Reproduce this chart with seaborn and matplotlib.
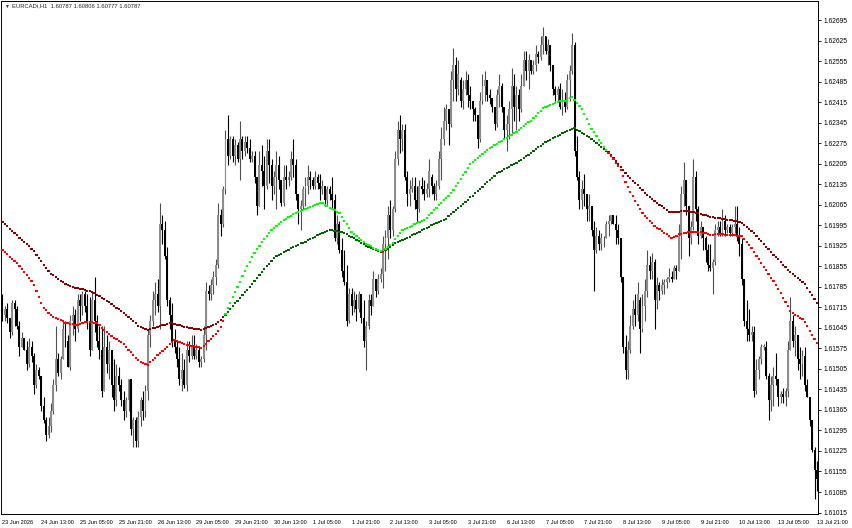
import numpy as np
import pandas as pd
import matplotlib
matplotlib.use("Agg")
import matplotlib.pyplot as plt
import seaborn as sns

# EURCADi H1 candles, 23 Jun 21:00 .. 13 Jul 21:00 (one bar per hour)
opens = [
    1.6174, 1.6169, 1.6171, 1.6168, 1.6163, 1.6173, 1.6171, 1.6165, 1.6158, 1.6161,
    1.6157, 1.6152, 1.6158, 1.6155, 1.6145, 1.6150, 1.6148, 1.6138, 1.6133, 1.6128,
    1.6131, 1.6136, 1.6145, 1.6154, 1.6149, 1.6154, 1.6164, 1.6160, 1.6151, 1.6167,
    1.6169, 1.6164, 1.6174, 1.6172, 1.6176, 1.6172, 1.6167, 1.6157, 1.6174, 1.6167,
    1.6160, 1.6157, 1.6143, 1.6158, 1.6152, 1.6157, 1.6145, 1.6140, 1.6148, 1.6145,
    1.6140, 1.6136, 1.6140, 1.6147, 1.6130, 1.6133, 1.6126, 1.6134, 1.6140, 1.6136,
    1.6143, 1.6162, 1.6167, 1.6174, 1.6176, 1.6172, 1.6200, 1.6198, 1.6189, 1.6174,
    1.6169, 1.6160, 1.6158, 1.6154, 1.6147, 1.6150, 1.6145, 1.6157, 1.6155, 1.6158,
    1.6155, 1.6157, 1.6153, 1.6154, 1.6162, 1.6177, 1.6176, 1.6179, 1.6182, 1.6186,
    1.6203, 1.6200, 1.6212, 1.6229, 1.6223, 1.6229, 1.6223, 1.6227, 1.6222, 1.6229,
    1.6225, 1.6228, 1.6226, 1.6222, 1.6223, 1.6216, 1.6206, 1.6220, 1.6218, 1.6213,
    1.6225, 1.6220, 1.6213, 1.6216, 1.6220, 1.6215, 1.6207, 1.6216, 1.6215, 1.6216,
    1.6222, 1.6220, 1.6210, 1.6205, 1.6206, 1.6212, 1.6213, 1.6216, 1.6215, 1.6213,
    1.6216, 1.6214, 1.6212, 1.6213, 1.6208, 1.6212, 1.6210, 1.6208, 1.6195, 1.6200,
    1.6191, 1.6184, 1.6180, 1.6167, 1.6176, 1.6172, 1.6174, 1.6171, 1.6176, 1.6168,
    1.6160, 1.6165, 1.6174, 1.6172, 1.6181, 1.6177, 1.6181, 1.6183, 1.6193, 1.6195,
    1.6203, 1.6198, 1.6205, 1.6222, 1.6232, 1.6229, 1.6232, 1.6216, 1.6210, 1.6212,
    1.6213, 1.6208, 1.6205, 1.6213, 1.6212, 1.6210, 1.6212, 1.6216, 1.6213, 1.6210,
    1.6213, 1.6222, 1.6229, 1.6235, 1.6239, 1.6234, 1.6249, 1.6254, 1.6246, 1.6249,
    1.6242, 1.6246, 1.6249, 1.6244, 1.6242, 1.6239, 1.6237, 1.6229, 1.6242, 1.6247,
    1.6249, 1.6244, 1.6243, 1.6240, 1.6234, 1.6244, 1.6247, 1.6240, 1.6232, 1.6234,
    1.6239, 1.6247, 1.6240, 1.6244, 1.6239, 1.6247, 1.6256, 1.6252, 1.6256, 1.6252,
    1.6254, 1.6258, 1.6257, 1.6261, 1.6264, 1.6259, 1.6261, 1.6254, 1.6246, 1.6244,
    1.6246, 1.6240, 1.6242, 1.6240, 1.6249, 1.6252, 1.6261, 1.6225, 1.6216, 1.6208,
    1.6212, 1.6210, 1.6205, 1.6206, 1.6198, 1.6191, 1.6196, 1.6193, 1.6195, 1.6195,
    1.6200, 1.6201, 1.6203, 1.6200, 1.6198, 1.6195, 1.6182, 1.6158, 1.6150, 1.6157,
    1.6165, 1.6171, 1.6169, 1.6174, 1.6164, 1.6172, 1.6177, 1.6186, 1.6184, 1.6187,
    1.6174, 1.6179, 1.6177, 1.6179, 1.6180, 1.6181, 1.6182, 1.6181, 1.6185, 1.6184,
    1.6196, 1.6210, 1.6215, 1.6206, 1.6195, 1.6199, 1.6216, 1.6205, 1.6196, 1.6199,
    1.6195, 1.6191, 1.6186, 1.6185, 1.6187, 1.6198, 1.6199, 1.6197, 1.6201, 1.6198,
    1.6199, 1.6197, 1.6199, 1.6200, 1.6196, 1.6193, 1.6181, 1.6167, 1.6164, 1.6162,
    1.6163, 1.6143, 1.6150, 1.6154, 1.6158, 1.6158, 1.6148, 1.6140, 1.6145, 1.6148,
    1.6147, 1.6141, 1.6142, 1.6141, 1.6143, 1.6157, 1.6167, 1.6160, 1.6162, 1.6154,
    1.6152, 1.6155, 1.6145, 1.6141, 1.6133, 1.6123, 1.6116,
]
highs = [
    1.6176, 1.6172, 1.6173, 1.6168, 1.6174, 1.6174, 1.6172, 1.6167, 1.6163, 1.6161,
    1.6160, 1.6161, 1.6160, 1.6156, 1.6152, 1.6151, 1.6148, 1.6141, 1.6134, 1.6134,
    1.6139, 1.6147, 1.6165, 1.6156, 1.6155, 1.6167, 1.6167, 1.6162, 1.6169, 1.6172,
    1.6171, 1.6176, 1.6176, 1.6177, 1.6177, 1.6176, 1.6175, 1.6177, 1.6182, 1.6169,
    1.6165, 1.6165, 1.6165, 1.6162, 1.6160, 1.6157, 1.6154, 1.6152, 1.6151, 1.6147,
    1.6143, 1.6141, 1.6147, 1.6147, 1.6134, 1.6134, 1.6136, 1.6141, 1.6143, 1.6145,
    1.6164, 1.6169, 1.6177, 1.6180, 1.6181, 1.6207, 1.6203, 1.6201, 1.6192, 1.6175,
    1.6173, 1.6164, 1.6160, 1.6158, 1.6156, 1.6154, 1.6160, 1.6160, 1.6162, 1.6162,
    1.6159, 1.6158, 1.6155, 1.6165, 1.6180, 1.6179, 1.6181, 1.6184, 1.6188, 1.6207,
    1.6205, 1.6213, 1.6232, 1.6237, 1.6230, 1.6230, 1.6229, 1.6228, 1.6235, 1.6230,
    1.6230, 1.6230, 1.6229, 1.6225, 1.6225, 1.6216, 1.6225, 1.6227, 1.6223, 1.6229,
    1.6229, 1.6222, 1.6218, 1.6225, 1.6223, 1.6215, 1.6220, 1.6220, 1.6218, 1.6225,
    1.6229, 1.6222, 1.6210, 1.6208, 1.6213, 1.6216, 1.6220, 1.6218, 1.6216, 1.6218,
    1.6217, 1.6217, 1.6215, 1.6213, 1.6213, 1.6213, 1.6216, 1.6210, 1.6203, 1.6201,
    1.6195, 1.6191, 1.6186, 1.6178, 1.6178, 1.6177, 1.6176, 1.6177, 1.6176, 1.6174,
    1.6167, 1.6176, 1.6176, 1.6184, 1.6181, 1.6183, 1.6185, 1.6196, 1.6198, 1.6206,
    1.6208, 1.6206, 1.6225, 1.6235, 1.6237, 1.6234, 1.6234, 1.6218, 1.6215, 1.6216,
    1.6216, 1.6213, 1.6215, 1.6216, 1.6215, 1.6214, 1.6222, 1.6217, 1.6214, 1.6215,
    1.6225, 1.6233, 1.6240, 1.6241, 1.6239, 1.6252, 1.6260, 1.6257, 1.6256, 1.6250,
    1.6249, 1.6252, 1.6251, 1.6247, 1.6242, 1.6240, 1.6237, 1.6245, 1.6251, 1.6252,
    1.6249, 1.6246, 1.6243, 1.6240, 1.6246, 1.6251, 1.6248, 1.6240, 1.6237, 1.6242,
    1.6253, 1.6251, 1.6247, 1.6246, 1.6251, 1.6259, 1.6259, 1.6258, 1.6256, 1.6256,
    1.6261, 1.6259, 1.6264, 1.6267, 1.6264, 1.6263, 1.6261, 1.6254, 1.6247, 1.6247,
    1.6248, 1.6246, 1.6245, 1.6251, 1.6254, 1.6265, 1.6262, 1.6230, 1.6218, 1.6215,
    1.6217, 1.6210, 1.6210, 1.6206, 1.6201, 1.6199, 1.6198, 1.6197, 1.6196, 1.6201,
    1.6203, 1.6203, 1.6203, 1.6203, 1.6200, 1.6195, 1.6182, 1.6162, 1.6160, 1.6169,
    1.6174, 1.6176, 1.6180, 1.6175, 1.6176, 1.6181, 1.6191, 1.6189, 1.6190, 1.6188,
    1.6182, 1.6180, 1.6181, 1.6181, 1.6182, 1.6185, 1.6184, 1.6186, 1.6186, 1.6200,
    1.6213, 1.6221, 1.6215, 1.6206, 1.6201, 1.6222, 1.6218, 1.6206, 1.6201, 1.6199,
    1.6196, 1.6193, 1.6193, 1.6188, 1.6200, 1.6201, 1.6201, 1.6205, 1.6203, 1.6200,
    1.6200, 1.6200, 1.6206, 1.6206, 1.6199, 1.6195, 1.6181, 1.6174, 1.6171, 1.6165,
    1.6165, 1.6154, 1.6155, 1.6159, 1.6159, 1.6160, 1.6149, 1.6148, 1.6151, 1.6156,
    1.6147, 1.6143, 1.6144, 1.6144, 1.6160, 1.6175, 1.6169, 1.6165, 1.6162, 1.6158,
    1.6157, 1.6158, 1.6147, 1.6141, 1.6133, 1.6124, 1.6119,
]
lows = [
    1.6167, 1.6167, 1.6166, 1.6161, 1.6162, 1.6165, 1.6164, 1.6155, 1.6158, 1.6157,
    1.6150, 1.6151, 1.6153, 1.6142, 1.6144, 1.6147, 1.6136, 1.6132, 1.6126, 1.6127,
    1.6129, 1.6135, 1.6143, 1.6148, 1.6147, 1.6154, 1.6158, 1.6151, 1.6150, 1.6162,
    1.6160, 1.6163, 1.6167, 1.6169, 1.6170, 1.6164, 1.6155, 1.6157, 1.6163, 1.6158,
    1.6154, 1.6141, 1.6143, 1.6149, 1.6147, 1.6141, 1.6136, 1.6138, 1.6143, 1.6138,
    1.6133, 1.6134, 1.6136, 1.6128, 1.6124, 1.6124, 1.6124, 1.6131, 1.6133, 1.6134,
    1.6140, 1.6158, 1.6165, 1.6169, 1.6170, 1.6164, 1.6193, 1.6188, 1.6172, 1.6164,
    1.6158, 1.6156, 1.6151, 1.6145, 1.6143, 1.6144, 1.6143, 1.6153, 1.6154, 1.6154,
    1.6154, 1.6151, 1.6151, 1.6153, 1.6157, 1.6174, 1.6174, 1.6176, 1.6179, 1.6185,
    1.6196, 1.6199, 1.6210, 1.6220, 1.6222, 1.6221, 1.6220, 1.6221, 1.6215, 1.6222,
    1.6223, 1.6224, 1.6221, 1.6221, 1.6214, 1.6203, 1.6206, 1.6213, 1.6205, 1.6212,
    1.6214, 1.6208, 1.6210, 1.6205, 1.6212, 1.6206, 1.6206, 1.6212, 1.6213, 1.6215,
    1.6216, 1.6208, 1.6200, 1.6198, 1.6205, 1.6206, 1.6210, 1.6212, 1.6212, 1.6212,
    1.6212, 1.6208, 1.6210, 1.6206, 1.6206, 1.6208, 1.6205, 1.6194, 1.6193, 1.6190,
    1.6182, 1.6179, 1.6165, 1.6166, 1.6169, 1.6170, 1.6167, 1.6170, 1.6166, 1.6158,
    1.6150, 1.6164, 1.6169, 1.6172, 1.6175, 1.6176, 1.6180, 1.6178, 1.6184, 1.6188,
    1.6195, 1.6196, 1.6204, 1.6220, 1.6224, 1.6225, 1.6215, 1.6206, 1.6206, 1.6211,
    1.6205, 1.6201, 1.6204, 1.6210, 1.6208, 1.6209, 1.6209, 1.6210, 1.6208, 1.6208,
    1.6212, 1.6215, 1.6227, 1.6232, 1.6227, 1.6233, 1.6242, 1.6242, 1.6244, 1.6240,
    1.6239, 1.6244, 1.6240, 1.6239, 1.6235, 1.6235, 1.6226, 1.6228, 1.6241, 1.6242,
    1.6242, 1.6241, 1.6238, 1.6232, 1.6233, 1.6240, 1.6238, 1.6229, 1.6225, 1.6229,
    1.6231, 1.6235, 1.6232, 1.6235, 1.6238, 1.6247, 1.6249, 1.6246, 1.6251, 1.6251,
    1.6252, 1.6255, 1.6256, 1.6258, 1.6258, 1.6254, 1.6252, 1.6244, 1.6242, 1.6242,
    1.6239, 1.6237, 1.6238, 1.6239, 1.6242, 1.6251, 1.6223, 1.6215, 1.6205, 1.6205,
    1.6206, 1.6201, 1.6201, 1.6196, 1.6177, 1.6190, 1.6191, 1.6191, 1.6192, 1.6195,
    1.6196, 1.6200, 1.6200, 1.6193, 1.6193, 1.6180, 1.6156, 1.6147, 1.6147, 1.6156,
    1.6164, 1.6165, 1.6167, 1.6156, 1.6163, 1.6167, 1.6175, 1.6181, 1.6181, 1.6164,
    1.6171, 1.6174, 1.6176, 1.6176, 1.6178, 1.6180, 1.6180, 1.6181, 1.6181, 1.6184,
    1.6188, 1.6206, 1.6203, 1.6189, 1.6193, 1.6198, 1.6201, 1.6193, 1.6195, 1.6191,
    1.6187, 1.6184, 1.6184, 1.6176, 1.6186, 1.6196, 1.6196, 1.6196, 1.6196, 1.6197,
    1.6196, 1.6196, 1.6197, 1.6194, 1.6189, 1.6179, 1.6165, 1.6160, 1.6160, 1.6160,
    1.6141, 1.6142, 1.6147, 1.6152, 1.6157, 1.6147, 1.6133, 1.6136, 1.6138, 1.6145,
    1.6138, 1.6139, 1.6139, 1.6138, 1.6141, 1.6157, 1.6158, 1.6155, 1.6150, 1.6147,
    1.6148, 1.6143, 1.6141, 1.6131, 1.6122, 1.6106, 1.6109,
]
closes = [
    1.6169, 1.6171, 1.6168, 1.6163, 1.6173, 1.6171, 1.6165, 1.6158, 1.6161, 1.6157,
    1.6152, 1.6158, 1.6155, 1.6145, 1.6150, 1.6148, 1.6138, 1.6133, 1.6128, 1.6131,
    1.6136, 1.6145, 1.6154, 1.6149, 1.6154, 1.6164, 1.6160, 1.6151, 1.6167, 1.6169,
    1.6164, 1.6174, 1.6172, 1.6176, 1.6172, 1.6167, 1.6157, 1.6174, 1.6167, 1.6160,
    1.6157, 1.6143, 1.6158, 1.6152, 1.6157, 1.6145, 1.6140, 1.6148, 1.6145, 1.6140,
    1.6136, 1.6140, 1.6147, 1.6130, 1.6133, 1.6126, 1.6134, 1.6140, 1.6136, 1.6143,
    1.6162, 1.6167, 1.6174, 1.6176, 1.6172, 1.6200, 1.6198, 1.6189, 1.6174, 1.6169,
    1.6160, 1.6158, 1.6154, 1.6147, 1.6150, 1.6145, 1.6157, 1.6155, 1.6158, 1.6155,
    1.6157, 1.6153, 1.6154, 1.6162, 1.6177, 1.6176, 1.6179, 1.6182, 1.6186, 1.6203,
    1.6200, 1.6212, 1.6229, 1.6223, 1.6229, 1.6223, 1.6227, 1.6222, 1.6229, 1.6225,
    1.6228, 1.6226, 1.6222, 1.6223, 1.6216, 1.6206, 1.6220, 1.6218, 1.6213, 1.6225,
    1.6220, 1.6213, 1.6216, 1.6220, 1.6215, 1.6207, 1.6216, 1.6215, 1.6216, 1.6222,
    1.6220, 1.6210, 1.6205, 1.6206, 1.6212, 1.6213, 1.6216, 1.6215, 1.6213, 1.6216,
    1.6214, 1.6212, 1.6213, 1.6208, 1.6212, 1.6210, 1.6208, 1.6195, 1.6200, 1.6191,
    1.6184, 1.6180, 1.6167, 1.6176, 1.6172, 1.6174, 1.6171, 1.6176, 1.6168, 1.6160,
    1.6165, 1.6174, 1.6172, 1.6181, 1.6177, 1.6181, 1.6183, 1.6193, 1.6195, 1.6203,
    1.6198, 1.6205, 1.6222, 1.6232, 1.6229, 1.6232, 1.6216, 1.6210, 1.6212, 1.6213,
    1.6208, 1.6205, 1.6213, 1.6212, 1.6210, 1.6212, 1.6218, 1.6213, 1.6210, 1.6213,
    1.6222, 1.6229, 1.6235, 1.6239, 1.6234, 1.6249, 1.6254, 1.6246, 1.6251, 1.6242,
    1.6246, 1.6249, 1.6244, 1.6242, 1.6239, 1.6237, 1.6229, 1.6242, 1.6247, 1.6249,
    1.6244, 1.6243, 1.6240, 1.6234, 1.6244, 1.6247, 1.6240, 1.6232, 1.6234, 1.6239,
    1.6247, 1.6240, 1.6244, 1.6239, 1.6247, 1.6256, 1.6252, 1.6256, 1.6252, 1.6254,
    1.6258, 1.6257, 1.6261, 1.6264, 1.6259, 1.6261, 1.6254, 1.6246, 1.6244, 1.6246,
    1.6240, 1.6242, 1.6240, 1.6249, 1.6252, 1.6261, 1.6225, 1.6216, 1.6208, 1.6212,
    1.6210, 1.6205, 1.6206, 1.6198, 1.6191, 1.6196, 1.6193, 1.6195, 1.6195, 1.6200,
    1.6201, 1.6203, 1.6200, 1.6198, 1.6195, 1.6182, 1.6158, 1.6150, 1.6157, 1.6165,
    1.6171, 1.6169, 1.6176, 1.6164, 1.6172, 1.6177, 1.6186, 1.6184, 1.6187, 1.6174,
    1.6179, 1.6177, 1.6179, 1.6180, 1.6181, 1.6182, 1.6181, 1.6185, 1.6184, 1.6196,
    1.6210, 1.6215, 1.6206, 1.6195, 1.6199, 1.6216, 1.6205, 1.6196, 1.6199, 1.6195,
    1.6191, 1.6186, 1.6185, 1.6187, 1.6198, 1.6199, 1.6197, 1.6201, 1.6198, 1.6199,
    1.6197, 1.6199, 1.6200, 1.6196, 1.6193, 1.6181, 1.6167, 1.6164, 1.6162, 1.6163,
    1.6143, 1.6150, 1.6154, 1.6158, 1.6158, 1.6148, 1.6140, 1.6145, 1.6148, 1.6147,
    1.6141, 1.6142, 1.6141, 1.6143, 1.6157, 1.6167, 1.6160, 1.6162, 1.6154, 1.6152,
    1.6155, 1.6145, 1.6141, 1.6133, 1.6123, 1.6116, 1.6113,
]

# the two moving averages drawn as dotted lines
ma_fast = [
    1.61911, 1.61904, 1.61897, 1.61887, 1.61880, 1.61873, 1.61866, 1.61856, 1.61846, 1.61835,
    1.61825, 1.61815, 1.61805, 1.61791, 1.61771, 1.61750, 1.61730, 1.61713, 1.61706, 1.61696,
    1.61689, 1.61682, 1.61679, 1.61675, 1.61672, 1.61668, 1.61662, 1.61662, 1.61658, 1.61658,
    1.61655, 1.61655, 1.61658, 1.61662, 1.61665, 1.61665, 1.61665, 1.61665, 1.61662, 1.61662,
    1.61655, 1.61645, 1.61638, 1.61631, 1.61624, 1.61617, 1.61610, 1.61607, 1.61600, 1.61597,
    1.61590, 1.61580, 1.61570, 1.61563, 1.61552, 1.61542, 1.61535, 1.61529, 1.61525, 1.61522,
    1.61518, 1.61529, 1.61535, 1.61542, 1.61552, 1.61559, 1.61566, 1.61573, 1.61580, 1.61590,
    1.61597, 1.61604, 1.61600, 1.61597, 1.61593, 1.61590, 1.61587, 1.61587, 1.61583, 1.61583,
    1.61580, 1.61580, 1.61576, 1.61583, 1.61590, 1.61600, 1.61607, 1.61617, 1.61624, 1.61634,
    1.61648, 1.61668, 1.61692, 1.61713, 1.61730, 1.61750, 1.61767, 1.61784, 1.61801, 1.61822,
    1.61839, 1.61856, 1.61869, 1.61886, 1.61900, 1.61914, 1.61925, 1.61938, 1.61948, 1.61959,
    1.61969, 1.61979, 1.61986, 1.61993, 1.61999, 1.62006, 1.62013, 1.62016, 1.62023, 1.62027,
    1.62033, 1.62037, 1.62040, 1.62044, 1.62047, 1.62050, 1.62054, 1.62057, 1.62061, 1.62064,
    1.62067, 1.62071, 1.62071, 1.62064, 1.62061, 1.62054, 1.62050, 1.62047, 1.62040, 1.62037,
    1.62023, 1.62009, 1.61999, 1.61985, 1.61972, 1.61965, 1.61959, 1.61952, 1.61945, 1.61938,
    1.61931, 1.61928, 1.61925, 1.61918, 1.61914, 1.61910, 1.61907, 1.61903, 1.61914, 1.61921,
    1.61928, 1.61934, 1.61948, 1.61958, 1.61968, 1.61979, 1.61982, 1.61985, 1.61989, 1.61992,
    1.61999, 1.62003, 1.62006, 1.62009, 1.62013, 1.62020, 1.62030, 1.62037, 1.62047, 1.62054,
    1.62064, 1.62071, 1.62081, 1.62088, 1.62095, 1.62105, 1.62115, 1.62129, 1.62139, 1.62153,
    1.62166, 1.62176, 1.62190, 1.62204, 1.62211, 1.62217, 1.62224, 1.62231, 1.62238, 1.62245,
    1.62252, 1.62258, 1.62262, 1.62269, 1.62272, 1.62279, 1.62282, 1.62289, 1.62292, 1.62299,
    1.62303, 1.62309, 1.62313, 1.62320, 1.62327, 1.62333, 1.62340, 1.62347, 1.62350, 1.62361,
    1.62367, 1.62378, 1.62385, 1.62395, 1.62398, 1.62402, 1.62405, 1.62408, 1.62412, 1.62415,
    1.62419, 1.62419, 1.62419, 1.62422, 1.62429, 1.62432, 1.62422, 1.62412, 1.62402, 1.62391,
    1.62374, 1.62357, 1.62340, 1.62323, 1.62313, 1.62299, 1.62286, 1.62275, 1.62262, 1.62252,
    1.62241, 1.62231, 1.62221, 1.62207, 1.62197, 1.62183, 1.62163, 1.62142, 1.62125, 1.62108,
    1.62095, 1.62078, 1.62064, 1.62050, 1.62037, 1.62027, 1.62020, 1.62009, 1.62003, 1.61992,
    1.61985, 1.61982, 1.61975, 1.61968, 1.61965, 1.61958, 1.61951, 1.61955, 1.61958, 1.61965,
    1.61965, 1.61968, 1.61968, 1.61972, 1.61972, 1.61972, 1.61972, 1.61972, 1.61972, 1.61968,
    1.61968, 1.61965, 1.61962, 1.61962, 1.61965, 1.61965, 1.61965, 1.61965, 1.61962, 1.61962,
    1.61962, 1.61962, 1.61962, 1.61958, 1.61958, 1.61958, 1.61948, 1.61938, 1.61928, 1.61917,
    1.61904, 1.61890, 1.61880, 1.61866, 1.61852, 1.61842, 1.61829, 1.61815, 1.61805, 1.61791,
    1.61778, 1.61764, 1.61747, 1.61733, 1.61720, 1.61703, 1.61696, 1.61689, 1.61686, 1.61679,
    1.61675, 1.61665, 1.61651, 1.61634, 1.61621, 1.61607, 1.61593,
]
ma_slow = [
    1.62006, 1.61999, 1.61993, 1.61982, 1.61976, 1.61969, 1.61962, 1.61952, 1.61945, 1.61938,
    1.61931, 1.61925, 1.61914, 1.61907, 1.61893, 1.61883, 1.61873, 1.61859, 1.61849, 1.61839,
    1.61828, 1.61825, 1.61818, 1.61811, 1.61805, 1.61801, 1.61794, 1.61791, 1.61788, 1.61784,
    1.61781, 1.61781, 1.61777, 1.61777, 1.61774, 1.61771, 1.61771, 1.61767, 1.61764, 1.61757,
    1.61754, 1.61747, 1.61743, 1.61737, 1.61733, 1.61726, 1.61720, 1.61713, 1.61709, 1.61703,
    1.61696, 1.61689, 1.61682, 1.61675, 1.61669, 1.61662, 1.61652, 1.61648, 1.61645, 1.61641,
    1.61638, 1.61641, 1.61645, 1.61645, 1.61648, 1.61652, 1.61655, 1.61655, 1.61658, 1.61662,
    1.61662, 1.61658, 1.61655, 1.61655, 1.61652, 1.61648, 1.61648, 1.61645, 1.61645, 1.61641,
    1.61641, 1.61641, 1.61638, 1.61641, 1.61645, 1.61648, 1.61652, 1.61655, 1.61658, 1.61665,
    1.61672, 1.61682, 1.61689, 1.61699, 1.61709, 1.61720, 1.61730, 1.61737, 1.61747, 1.61757,
    1.61767, 1.61774, 1.61784, 1.61794, 1.61805, 1.61815, 1.61825, 1.61835, 1.61845, 1.61856,
    1.61862, 1.61873, 1.61883, 1.61890, 1.61893, 1.61896, 1.61903, 1.61907, 1.61910, 1.61917,
    1.61921, 1.61925, 1.61928, 1.61935, 1.61935, 1.61938, 1.61945, 1.61948, 1.61952, 1.61955,
    1.61962, 1.61965, 1.61969, 1.61972, 1.61976, 1.61979, 1.61979, 1.61976, 1.61976, 1.61972,
    1.61972, 1.61969, 1.61965, 1.61959, 1.61955, 1.61952, 1.61945, 1.61942, 1.61935, 1.61931,
    1.61925, 1.61921, 1.61918, 1.61914, 1.61910, 1.61907, 1.61903, 1.61903, 1.61910, 1.61914,
    1.61921, 1.61928, 1.61935, 1.61938, 1.61942, 1.61945, 1.61948, 1.61952, 1.61955, 1.61962,
    1.61965, 1.61969, 1.61972, 1.61979, 1.61982, 1.61986, 1.61989, 1.61996, 1.61999, 1.62003,
    1.62006, 1.62010, 1.62013, 1.62016, 1.62027, 1.62033, 1.62040, 1.62047, 1.62054, 1.62061,
    1.62067, 1.62074, 1.62081, 1.62091, 1.62095, 1.62105, 1.62112, 1.62118, 1.62125, 1.62135,
    1.62142, 1.62149, 1.62156, 1.62163, 1.62173, 1.62176, 1.62180, 1.62186, 1.62190, 1.62193,
    1.62200, 1.62203, 1.62207, 1.62214, 1.62217, 1.62224, 1.62231, 1.62234, 1.62241, 1.62248,
    1.62255, 1.62262, 1.62265, 1.62272, 1.62279, 1.62282, 1.62286, 1.62293, 1.62296, 1.62300,
    1.62303, 1.62310, 1.62313, 1.62317, 1.62320, 1.62323, 1.62327, 1.62320, 1.62317, 1.62310,
    1.62306, 1.62300, 1.62296, 1.62289, 1.62282, 1.62276, 1.62269, 1.62262, 1.62255, 1.62248,
    1.62245, 1.62234, 1.62224, 1.62214, 1.62203, 1.62193, 1.62183, 1.62173, 1.62163, 1.62156,
    1.62146, 1.62139, 1.62132, 1.62122, 1.62115, 1.62105, 1.62098, 1.62091, 1.62084, 1.62078,
    1.62071, 1.62064, 1.62061, 1.62054, 1.62047, 1.62040, 1.62040, 1.62040, 1.62040, 1.62040,
    1.62044, 1.62044, 1.62044, 1.62044, 1.62040, 1.62040, 1.62037, 1.62037, 1.62033, 1.62030,
    1.62030, 1.62027, 1.62023, 1.62023, 1.62020, 1.62020, 1.62020, 1.62016, 1.62016, 1.62013,
    1.62013, 1.62013, 1.62010, 1.62010, 1.62006, 1.62003, 1.61996, 1.61989, 1.61982, 1.61976,
    1.61969, 1.61959, 1.61948, 1.61942, 1.61931, 1.61921, 1.61914, 1.61903, 1.61893, 1.61886,
    1.61879, 1.61869, 1.61859, 1.61852, 1.61842, 1.61835, 1.61828, 1.61822, 1.61815, 1.61808,
    1.61801, 1.61794, 1.61781, 1.61767, 1.61757, 1.61743, 1.61730,
]

# axis labels as the terminal prints them (one date label every 16 bars)
date_labels = [
    "23 Jun 2026", "24 Jun 13:00", "25 Jun 05:00", "25 Jun 21:00", "26 Jun 13:00",
    "29 Jun 05:00", "29 Jun 21:00", "30 Jun 13:00", "1 Jul 05:00", "1 Jul 21:00",
    "2 Jul 13:00", "3 Jul 05:00", "3 Jul 21:00", "6 Jul 13:00", "7 Jul 05:00",
    "7 Jul 21:00", "8 Jul 13:00", "9 Jul 05:00", "9 Jul 21:00", "10 Jul 13:00",
    "13 Jul 05:00", "13 Jul 21:00",
]
price_labels = [
    "1.62695", "1.62625", "1.62555", "1.62485", "1.62415", "1.62345", "1.62275",
    "1.62205", "1.62135", "1.62065", "1.61995", "1.61925", "1.61855", "1.61785",
    "1.61715", "1.61645", "1.61575", "1.61505", "1.61435", "1.61365", "1.61295",
    "1.61225", "1.61155", "1.61085", "1.61015",
]
header = "EURCADi,H1  1.60787 1.60806 1.60777 1.60787"

sns.set_style("white")
plt.rcParams['font.family'] = ['Liberation Sans', 'DejaVu Sans']

bars = pd.DataFrame({'open': opens, 'high': highs, 'low': lows, 'close': closes})
bars['bar'] = np.arange(len(bars))
bars['up'] = bars['close'] >= bars['open']

ma = pd.DataFrame({'bar': bars['bar'], 'fast': ma_fast, 'slow': ma_slow})
trend = np.where(ma['fast'] > ma['slow'], 'up', 'down')
dots = pd.concat([
    pd.DataFrame({'bar': ma['bar'], 'price': ma['slow'], 'kind': ['slow_' + t for t in trend]}),
    pd.DataFrame({'bar': ma['bar'], 'price': ma['fast'], 'kind': ['fast_' + t for t in trend]}),
], ignore_index=True)
palette = {'fast_up': '#00ff00', 'slow_up': '#006400',
           'fast_down': '#ff0000', 'slow_down': '#8b0000'}

fig = plt.figure(figsize=(8.52, 5.28), dpi=100)
ax = fig.add_axes([1 / 852, 14 / 528, 817 / 852, 513 / 528])

# candles: grey body = up bar, black body = down bar
wick_col = np.where(bars['up'], '#505050', '#000000')
body_col = np.where(bars['up'], '#8c8c8c', '#000000')
ax.vlines(bars['bar'], bars['low'], bars['high'], colors=wick_col, linewidth=0.8, zorder=2)
body_h = (bars['close'] - bars['open']).abs().clip(lower=0.00002)
body_b = bars[['open', 'close']].min(axis=1)
ax.bar(bars['bar'], body_h, bottom=body_b, width=0.8, color=body_col, linewidth=0, zorder=2)

sns.scatterplot(data=dots, x='bar', y='price', hue='kind', palette=palette, marker='s',
                s=2.6, linewidth=0, legend=False, ax=ax, zorder=3)

ax.set_xlim(-0.6, 336.4)
ax.set_ylim(1.61010, 1.62760)
ax.set_xlabel('')
ax.set_ylabel('')

ax.yaxis.tick_right()
ax.set_yticks([float(p) for p in price_labels])
ax.set_yticklabels(price_labels)
ax.set_xticks(np.arange(len(date_labels)) * 16)
ax.set_xticklabels(date_labels)
for lab in ax.get_xticklabels():
    lab.set_horizontalalignment('left')
ax.tick_params(axis='y', direction='out', length=2.5, width=0.6, labelsize=4.8,
               pad=1.5, colors='black')
ax.tick_params(axis='x', direction='out', length=2.5, width=0.6, labelsize=4.1,
               pad=1.5, colors='black')

for sp in ax.spines.values():
    sp.set_color('black')
    sp.set_linewidth(0.7)

fig.text(4 / 852, 1 - 6 / 528, "\u25bc", fontsize=3.5, va='center', ha='left')
fig.text(12 / 852, 1 - 6 / 528, header, fontsize=4.2, va='center', ha='left')

fig.savefig('out.png', dpi=100)
